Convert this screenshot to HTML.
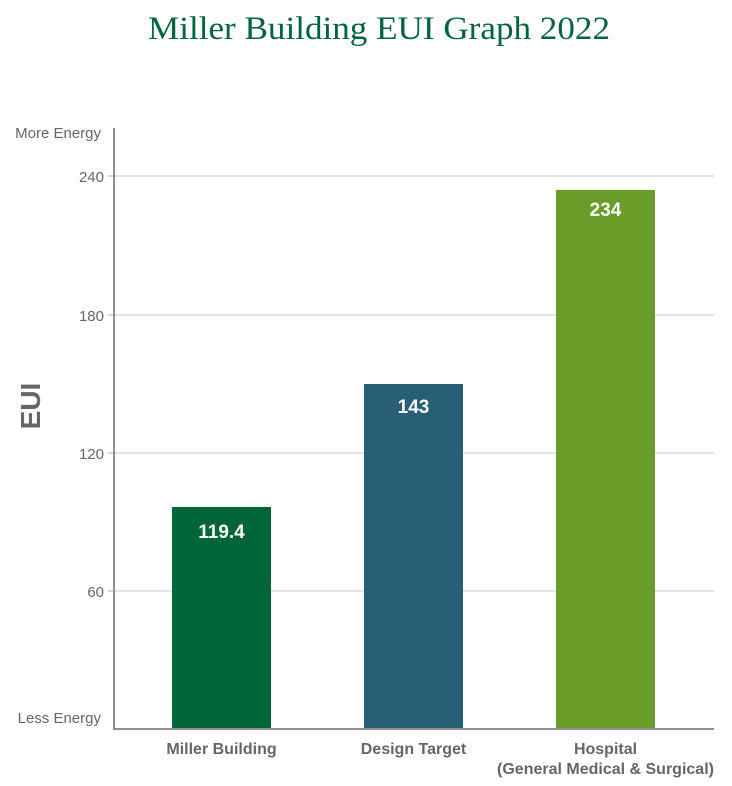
<!DOCTYPE html>
<html><head><meta charset="utf-8"><style>
body{margin:0;background:#fff;}
</style></head><body>
<svg width="732" height="786" xmlns="http://www.w3.org/2000/svg" style="display:block">
<text x="379" y="39" text-anchor="middle" font-family="Liberation Serif, serif" font-size="33" fill="#00663a" textLength="462" lengthAdjust="spacingAndGlyphs">Miller Building EUI Graph 2022</text>
<g stroke="#e3e3e3" stroke-width="2">
<line x1="114" y1="176" x2="714" y2="176"/>
<line x1="114" y1="315" x2="714" y2="315"/>
<line x1="114" y1="453" x2="714" y2="453"/>
<line x1="114" y1="591" x2="714" y2="591"/>
</g>
<g stroke="#c8c8c8" stroke-width="1.5">
<line x1="108" y1="176" x2="114" y2="176"/>
<line x1="108" y1="315" x2="114" y2="315"/>
<line x1="108" y1="453" x2="114" y2="453"/>
<line x1="108" y1="591" x2="114" y2="591"/>
</g>
<rect x="172" y="507" width="99" height="222" fill="#00663a"/>
<rect x="364" y="384" width="99" height="345" fill="#285f77"/>
<rect x="556" y="190" width="99" height="539" fill="#6a9c29"/>
<line x1="114" y1="128" x2="114" y2="729" stroke="#8e8e93" stroke-width="2"/>
<line x1="113" y1="729" x2="714" y2="729" stroke="#8e8e93" stroke-width="2"/>
<g font-family="Liberation Sans, sans-serif" font-size="15" fill="#666" text-anchor="end">
<text x="101" y="138">More Energy</text>
<text x="104" y="182">240</text>
<text x="104" y="321">180</text>
<text x="104" y="459">120</text>
<text x="104" y="597">60</text>
<text x="101" y="723">Less Energy</text>
</g>
<text transform="translate(40,406) rotate(-90)" text-anchor="middle" font-family="Liberation Sans, sans-serif" font-size="28" font-weight="bold" fill="#666">EUI</text>
<g font-family="Liberation Sans, sans-serif" font-size="19" font-weight="bold" fill="#fff" text-anchor="middle">
<text x="221.5" y="538">119.4</text>
<text x="413.5" y="413">143</text>
<text x="605.5" y="216">234</text>
</g>
<g font-family="Liberation Sans, sans-serif" font-size="16" font-weight="bold" fill="#666" text-anchor="middle">
<text x="221.5" y="754">Miller Building</text>
<text x="413.5" y="754">Design Target</text>
<text x="605.5" y="754">Hospital</text>
<text x="605.5" y="774">(General Medical &amp; Surgical)</text>
</g>
</svg>
</body></html>
